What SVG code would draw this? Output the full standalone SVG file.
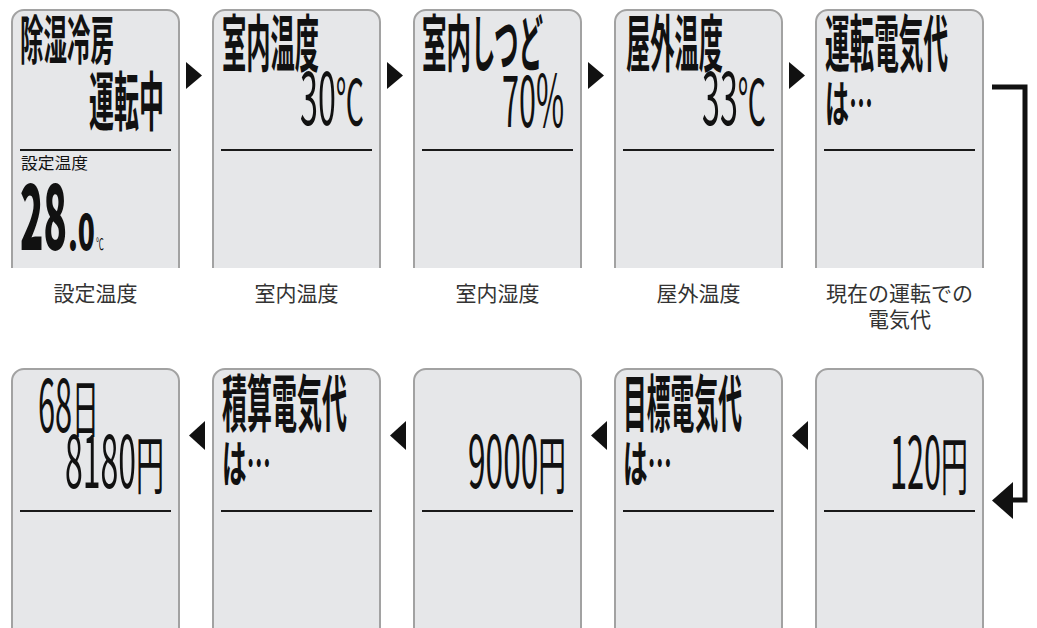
<svg xmlns="http://www.w3.org/2000/svg" width="1037" height="628" viewBox="0 0 1037 628">
<style>
.panel{fill:#e6e7e9;stroke:#a2a2a2;stroke-width:2}
.div{stroke:#1a1a1a;stroke-width:2}
.t{font-family:"Noto Sans CJK JP","Noto Sans",sans-serif;fill:#111}
.b{font-weight:700}
.r{font-weight:400}
.h{font-weight:700;font-size:62px}
.v{font-weight:400;font-size:72px}
.k{font-size:63px}
.lbl{font-family:"Noto Sans CJK JP","Noto Sans",sans-serif;font-size:21px;fill:#333;text-anchor:middle}
.arw{fill:#111}
.con{fill:none;stroke:#111;stroke-width:5}
</style>
<rect width="1037" height="628" fill="#fff"/>

<g id="panel-setting">
<path class="panel" d="M12,268 V22 A12,12 0 0 1 24,10 H167 A12,12 0 0 1 179,22 V268"/>
<line class="div" x1="20" y1="150" x2="171" y2="150"/>
<text class="t b" transform="translate(20,60) scale(0.5,1)" font-size="53" textLength="188" lengthAdjust="spacingAndGlyphs">除湿冷房</text>
<text class="t b" transform="translate(89,125) scale(0.5,1)" font-size="64" textLength="150" lengthAdjust="spacingAndGlyphs">運転中</text>
<text class="t r" x="21" y="169" font-size="16" textLength="67" lengthAdjust="spacingAndGlyphs">設定温度</text>
<text class="t" font-weight="900" transform="translate(20,250) scale(0.46,1)" font-size="90" textLength="102" lengthAdjust="spacingAndGlyphs">28</text>
<text class="t" font-weight="900" transform="translate(68,250) scale(0.5,1)" font-size="50" textLength="54" lengthAdjust="spacingAndGlyphs">.0</text>
<text class="t r" transform="translate(96,250) scale(0.6,1)" font-size="16" textLength="13" lengthAdjust="spacingAndGlyphs">℃</text>
</g>
<text class="lbl" x="95.5" y="301">設定温度</text>

<g id="panel-indoor-temp">
<path class="panel" d="M213,268 V22 A12,12 0 0 1 225,10 H368 A12,12 0 0 1 380,22 V268"/>
<line class="div" x1="221" y1="150" x2="372" y2="150"/>
<text class="t h" transform="translate(222,67) scale(0.5,1)" textLength="194" lengthAdjust="spacingAndGlyphs">室内温度</text>
<text class="t v" transform="translate(300,125) scale(0.5,1)" textLength="128" lengthAdjust="spacingAndGlyphs">30<tspan class="k">℃</tspan></text>
</g>
<text class="lbl" x="296.5" y="301">室内温度</text>

<g id="panel-indoor-humidity">
<path class="panel" d="M414,268 V22 A12,12 0 0 1 426,10 H569 A12,12 0 0 1 581,22 V268"/>
<line class="div" x1="422" y1="150" x2="573" y2="150"/>
<text class="t h" transform="translate(422,67) scale(0.5,1)" textLength="242" lengthAdjust="spacingAndGlyphs">室内しつど</text>
<text class="t v" transform="translate(502,127) scale(0.5,1)" textLength="124" lengthAdjust="spacingAndGlyphs">70%</text>
</g>
<text class="lbl" x="497.5" y="301">室内湿度</text>

<g id="panel-outdoor-temp">
<path class="panel" d="M615,268 V22 A12,12 0 0 1 627,10 H770 A12,12 0 0 1 782,22 V268"/>
<line class="div" x1="623" y1="150" x2="774" y2="150"/>
<text class="t h" transform="translate(626,67) scale(0.5,1)" textLength="194" lengthAdjust="spacingAndGlyphs">屋外温度</text>
<text class="t v" transform="translate(702,125) scale(0.5,1)" textLength="128" lengthAdjust="spacingAndGlyphs">33<tspan class="k">℃</tspan></text>
</g>
<text class="lbl" x="698.5" y="301">屋外温度</text>

<g id="panel-current-cost">
<path class="panel" d="M816,268 V22 A12,12 0 0 1 828,10 H971 A12,12 0 0 1 983,22 V268"/>
<line class="div" x1="824" y1="150" x2="975" y2="150"/>
<text class="t h" transform="translate(825,67) scale(0.5,1)" textLength="246" lengthAdjust="spacingAndGlyphs">運転電気代</text>
<text class="t b" transform="translate(825,122) scale(0.5,1)" font-size="50" textLength="96" lengthAdjust="spacingAndGlyphs">は…</text>
</g>
<text class="lbl" x="899.5" y="301">現在の運転での</text>
<text class="lbl" x="899.5" y="327">電気代</text>

<g id="panel-current-value">
<path class="panel" d="M816,628 V381 A12,12 0 0 1 828,369 H971 A12,12 0 0 1 983,381 V628"/>
<line class="div" x1="824" y1="511" x2="975" y2="511"/>
<text class="t v" transform="translate(890,489) scale(0.5,1)" textLength="156" lengthAdjust="spacingAndGlyphs">120<tspan class="k">円</tspan></text>
</g>

<g id="panel-target-cost">
<path class="panel" d="M615,628 V381 A12,12 0 0 1 627,369 H770 A12,12 0 0 1 782,381 V628"/>
<line class="div" x1="623" y1="511" x2="774" y2="511"/>
<text class="t h" transform="translate(623,427) scale(0.5,1)" textLength="238" lengthAdjust="spacingAndGlyphs">目標電気代</text>
<text class="t b" transform="translate(623,482) scale(0.5,1)" font-size="50" textLength="98" lengthAdjust="spacingAndGlyphs">は…</text>
</g>

<g id="panel-target-value">
<path class="panel" d="M414,628 V381 A12,12 0 0 1 426,369 H569 A12,12 0 0 1 581,381 V628"/>
<line class="div" x1="422" y1="511" x2="573" y2="511"/>
<text class="t v" transform="translate(468,488) scale(0.5,1)" textLength="196" lengthAdjust="spacingAndGlyphs">9000<tspan class="k">円</tspan></text>
</g>

<g id="panel-total-cost">
<path class="panel" d="M213,628 V381 A12,12 0 0 1 225,369 H368 A12,12 0 0 1 380,381 V628"/>
<line class="div" x1="221" y1="511" x2="372" y2="511"/>
<text class="t h" transform="translate(222,427) scale(0.5,1)" textLength="250" lengthAdjust="spacingAndGlyphs">積算電気代</text>
<text class="t b" transform="translate(222,482) scale(0.5,1)" font-size="50" textLength="98" lengthAdjust="spacingAndGlyphs">は…</text>
</g>

<g id="panel-total-value">
<path class="panel" d="M12,628 V381 A12,12 0 0 1 24,369 H167 A12,12 0 0 1 179,381 V628"/>
<line class="div" x1="20" y1="511" x2="171" y2="511"/>
<text class="t v" transform="translate(38,432) scale(0.5,1)" textLength="122" lengthAdjust="spacingAndGlyphs">68<tspan class="k">日</tspan></text>
<text class="t v" transform="translate(65,488) scale(0.5,1)" textLength="198" lengthAdjust="spacingAndGlyphs">8180<tspan class="k">円</tspan></text>
</g>

<g id="connectors">
<polygon class="arw" points="186,62 186,89 202,75.5"/>
<polygon class="arw" points="387,62 387,89 403,75.5"/>
<polygon class="arw" points="588,62 588,89 604,75.5"/>
<polygon class="arw" points="789,62 789,89 805,75.5"/>
<polygon class="arw" points="189,435.5 205,421 205,450"/>
<polygon class="arw" points="390,435.5 406,421 406,450"/>
<polygon class="arw" points="591,435.5 607,421 607,450"/>
<polygon class="arw" points="792,435.5 808,421 808,450"/>
<path class="con" d="M992,87 H1025 V500 H1008"/>
<polygon class="arw" points="992,500.5 1013,482 1013,519"/>
</g>
</svg>
